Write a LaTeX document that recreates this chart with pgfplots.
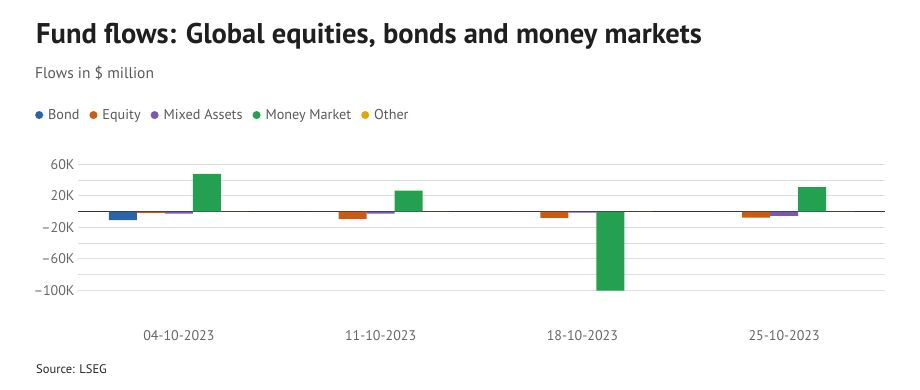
\documentclass[border=0pt]{standalone}
\usepackage{fontspec}
\setmainfont{PT Sans}
\usepackage{pgfplots}
\pgfplotsset{compat=1.18}
\definecolor{cBond}{HTML}{2A64A8}
\definecolor{cEq}{HTML}{CC5A12}
\definecolor{cMix}{HTML}{7A5AB0}
\definecolor{cMM}{HTML}{23A050}
\definecolor{cOth}{HTML}{E0A800}
\definecolor{tick}{HTML}{666666}
\definecolor{grid}{HTML}{DDDDDD}
\begin{document}
\begin{tikzpicture}[x=1pt,y=1pt]
\path[use as bounding box] (0,0) rectangle (920,389);
\node[anchor=base west,inner sep=0pt,font=\fontsize{28.5}{32}\selectfont\bfseries,text=black!88] at (36,345.7) {Fund flows: Global equities, bonds and money markets};
\node[anchor=base west,inner sep=0pt,font=\fontsize{15.5}{18}\selectfont,text=black!65] at (35,310) {Flows in \$ million};
\node[anchor=base west,inner sep=0pt,font=\fontsize{12.5}{15}\selectfont,text=black!85] at (36,16) {Source: LSEG};
\begin{axis}[
  at={(78pt,98.7pt)}, anchor=south west,
  scale only axis, width=807pt, height=126pt,
  xmin=-0.5, xmax=3.5, ymin=-100000, ymax=60000,
  ybar=0pt, bar width=28pt,
  axis line style={draw=none},
  tick style={draw=none},
  ymajorgrids, grid style={color=grid, line width=1pt},
  xtick={0,1,2,3},
  xticklabels={04-10-2023,11-10-2023,18-10-2023,25-10-2023},
  ytick={-100000,-80000,-60000,-40000,-20000,0,20000,40000,60000},
  yticklabels={–100K,,–60K,,–20K,,20K,,60K},
  scaled y ticks=false,
  ticklabel style={font=\fontsize{14}{16}\selectfont, text=tick},
  xticklabel style={anchor=base, yshift=-45.7pt},
  extra y ticks={0}, extra y tick labels={},
  extra y tick style={grid style={color=black!80, line width=1pt}},
  legend columns=-1,
  legend style={at={(-0.0533,1.391)}, anchor=west, draw=none, fill=none, inner sep=0pt,
    font=\fontsize{14.2}{16}\selectfont, text=black!65,
    /tikz/every even column/.append style={column sep=8pt}},
  legend image code/.code={\fill (4pt,0pt) circle (4pt); \path (0pt,0pt) -- (11pt,0pt);},
  clip=false,
]
\addplot[fill=cBond, draw=none] coordinates {(0,-11000) (1,0) (2,0) (3,0)};
\addplot[fill=cEq, draw=none] coordinates {(0,-1800) (1,-9300) (2,-8000) (3,-7600)};
\addplot[fill=cMix, draw=none] coordinates {(0,-2500) (1,-2500) (2,-1500) (3,-5500)};
\addplot[fill=cMM, draw=none] coordinates {(0,48000) (1,26700) (2,-100500) (3,30900)};
\addplot[fill=cOth, draw=none] coordinates {(0,0) (1,0) (2,0) (3,0)};
\legend{Bond,Equity,Mixed Assets,Money Market,Other}
\end{axis}
\end{tikzpicture}
\end{document}
